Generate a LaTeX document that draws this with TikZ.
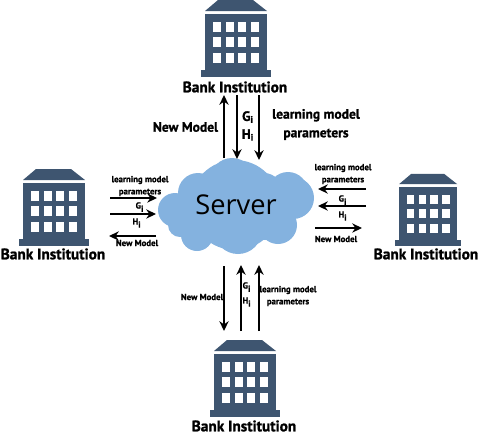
\documentclass[tikz,border=0pt]{standalone}
\usepackage{fontspec}
\setmainfont{PT Sans}[BoldFeatures={FakeBold=1.2}]
\newfontfamily\servfont{Open Sans}
\usepackage{xcolor}
\usetikzlibrary{arrows.meta, positioning}
\definecolor{bankblue}{HTML}{3E5570}
\definecolor{cloudblue}{HTML}{84B2DF}

\begin{document}
\begin{tikzpicture}[x=0.02cm, y=-0.02cm,
    flow/.style={-{Stealth[length=9pt*0.62, width=8.5pt*0.62]}, line width=0.85pt, black},
    thinflow/.style={-{Stealth[length=9pt*0.62, width=8.5pt*0.62]}, line width=0.65pt, black},
    bigtag/.style={font=\bfseries\fontsize{8.7}{10}\selectfont, inner sep=0pt, align=center},
    midtag/.style={font=\bfseries\fontsize{7.7}{10.6}\selectfont, inner sep=0pt, align=center},
    smalltag/.style={font=\bfseries\fontsize{5}{6.9}\selectfont, inner sep=0pt, align=center},
    bank/.pic={
        \fill[bankblue] (0,-3) -- (62,-3) -- (48,-14) -- (13,-14) -- cycle;
        \fill[bankblue] (0,0) rectangle (62,56);
        \fill[bankblue] (-4,56) rectangle (66,63);
        \foreach \col in {8,21,33,46}
            \foreach \row in {8,23,39}
                \fill[white] (\col,\row) rectangle ++(8,10);
    }]
    \useasboundingbox (0,0) rectangle (480,434);

    % Server cloud
    \foreach \cx/\cy/\cr in {232/180/22, 175/210/17, 198/193/20, 264/191/18, 288/192/20, 293/198/21,
        278/225/19, 238/230/24, 197/235/16, 180/225/12, 235/205/45, 205/210/30, 265/210/30}
        \fill[cloudblue] (\cx,\cy) circle (\cr);
    \node (server) at (236,205) [inner sep=0pt, font=\servfont\fontsize{15.5}{18}\selectfont] {Server};

    % Institutions
    \pic at (205,14) {bank};
    \pic at (23,183) {bank};
    \pic[scale=0.94] at (399,187) {bank};
    \pic at (214,354) {bank};
    \node (topbank) at (235,87) [bigtag] {Bank Institution};
    \node (leftbank) at (53,254) [bigtag] {Bank Institution};
    \node (rightbank) at (426,254) [bigtag] {Bank Institution};
    \node (botbank) at (244,426) [bigtag] {Bank Institution};

    % Arrow ends
    \coordinate (topa) at (224,158); \coordinate (topA) at (224,95);
    \coordinate (topb) at (237,95);  \coordinate (topB) at (237,159);
    \coordinate (topc) at (259,95);  \coordinate (topC) at (259,160);
    \coordinate (lefta) at (110,198); \coordinate (leftA) at (157,198);
    \coordinate (leftb) at (110,214); \coordinate (leftB) at (156,214);
    \coordinate (leftc) at (156,236); \coordinate (leftC) at (109,236);
    \coordinate (righta) at (366,189); \coordinate (rightA) at (318,189);
    \coordinate (rightb) at (366,206); \coordinate (rightB) at (318,206);
    \coordinate (rightc) at (315,228); \coordinate (rightC) at (362,228);
    \coordinate (bota) at (224,266); \coordinate (botA) at (224,331);
    \coordinate (botb) at (241,331); \coordinate (botB) at (241,265);
    \coordinate (botc) at (259,331); \coordinate (botC) at (259,265);

    % Data Flow
    \draw[flow] (topa) -- (topA);
    \draw[flow] (topb) -- (topB);
    \draw[flow] (topc) -- (topC);
    \draw[thinflow] (lefta) -- (leftA);
    \draw[thinflow] (leftb) -- (leftB);
    \draw[flow] (leftc) -- (leftC);
    \draw[flow] (righta) -- (rightA);
    \draw[flow] (rightb) -- (rightB);
    \draw[thinflow] (rightc) -- (rightC);
    \draw[flow] (bota) -- (botA);
    \draw[thinflow] (botb) -- (botB);
    \draw[flow] (botc) -- (botC);

    % Labels
    \node (topnew) at (185.5,127) [midtag] {New Model};
    \node (topg) at (248,117) [midtag] {G\textsubscript{i}};
    \node (toph) at (248,135) [midtag] {H\textsubscript{i}};
    \node (toplearn) at (316,124.5) [midtag] {learning model\\parameters};

    \node (leftlearn) at (140,186) [smalltag] {learning model\\parameters};
    \node (leftg) at (140,207) [smalltag] {G\textsubscript{i}};
    \node (lefth) at (137,223) [smalltag] {H\textsubscript{i}};
    \node (leftnew) at (137,243) [smalltag] {New Model};

    \node (rightlearn) at (343,174) [smalltag] {learning model\\parameters};
    \node (rightg) at (343,200) [smalltag] {G\textsubscript{i}};
    \node (righth) at (343,216) [smalltag] {H\textsubscript{i}};
    \node (rightnew) at (336,239) [smalltag] {New Model};

    \node (botnew) at (202,297) [smalltag] {New Model};
    \node (botg) at (247,287) [smalltag] {G\textsubscript{i}};
    \node (both) at (247,302) [smalltag] {H\textsubscript{i}};
    \node (botlearn) at (288,296) [smalltag] {learning model\\parameters};
\end{tikzpicture}
\end{document}
